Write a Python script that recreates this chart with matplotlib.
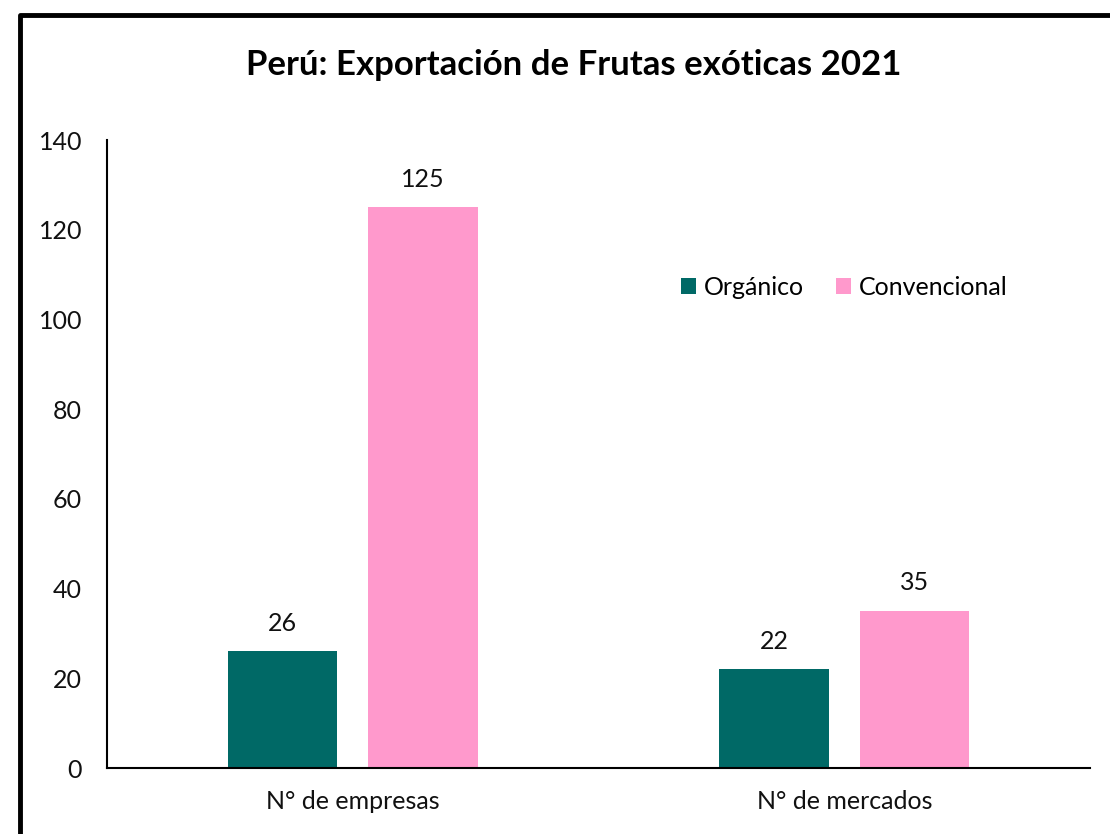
import matplotlib
matplotlib.use("Agg")
import matplotlib.pyplot as plt
from matplotlib.lines import Line2D
import numpy as np

categories = ["N° de empresas", "N° de mercados"]
organico = [26, 22]
convencional = [125, 35]
series_names = ["Orgánico", "Convencional"]
title = "Perú: Exportación de Frutas exóticas 2021"

plt.rcParams['font.family'] = ['Lato', 'DejaVu Sans']

fig = plt.figure(figsize=(11.1, 8.34), dpi=100)
ax = fig.add_axes([0.0964, 0.0791, 0.8856, 0.7529])

x = np.arange(len(categories))
w = 0.223
off = 0.143
b1 = ax.bar(x - off, organico, w, color="#006966", label=series_names[0])
b2 = ax.bar(x + off, convencional, w, color="#FF99CC", label=series_names[1])

for bars in (b1, b2):
    for b in bars:
        ax.annotate(f"{int(b.get_height())}", (b.get_x() + b.get_width() / 2, b.get_height()),
                    xytext=(0, 12), textcoords="offset points", ha="center", va="bottom",
                    fontsize=18, color="#111111")

ax.set_xlim(-0.5, 1.5)
ax.set_ylim(0, 140)
ax.set_yticks(range(0, 141, 20))
ax.set_xticks(x)
ax.set_xticklabels(categories)
ax.tick_params(axis="both", length=0, labelsize=18, colors="#111111")
ax.tick_params(axis="y", pad=18)
ax.tick_params(axis="x", pad=16)
for s in ("top", "right"):
    ax.spines[s].set_visible(False)
ax.spines["left"].set_linewidth(1.5)
ax.spines["bottom"].set_linewidth(1.5)

ax.legend(loc="center", bbox_to_anchor=(0.75, 0.765), ncol=2, frameon=False, fontsize=18,
          handlelength=0.6, handleheight=0.6, handletextpad=0.3, columnspacing=1.3)

fig.text(0.517, 0.922, title, ha="center", va="center", fontsize=25, fontweight="bold")

# outer border (cut off at right and bottom)
fig.add_artist(Line2D([0.018, 0.018, 1.01], [-0.01, 0.982, 0.982], transform=fig.transFigure,
                      color="black", linewidth=3.5))

fig.savefig("out.png", dpi=100)
